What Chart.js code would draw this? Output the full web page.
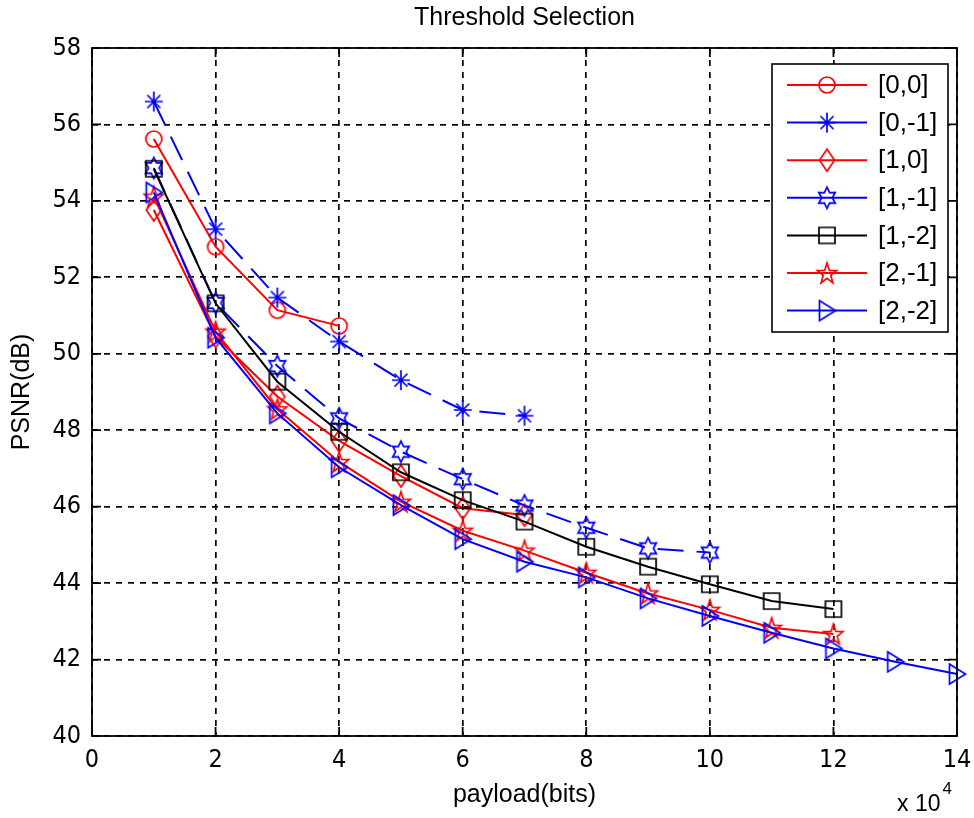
<!DOCTYPE html>
<html lang="en">
<head>
<meta charset="UTF-8">
<title>Threshold Selection</title>
<script src="https://cdn.jsdelivr.net/npm/chart.js"></script>
<style>
    html, body { margin: 0; padding: 0; background: #fff; }
    .chart-container { width: 974px; height: 818px; }
</style>
</head>
<body>
<div class="chart-container"><canvas id="grafico" width="974" height="818"></canvas></div>
<script>
// payload in units of 10^4 bits
var payload = [1, 2, 3, 4, 5, 6, 7, 8, 9, 10, 11, 12, 13, 14];
var seriesNames = ['[0,0]', '[0,-1]', '[1,0]', '[1,-1]', '[1,-2]', '[2,-1]', '[2,-2]'];

// PSNR(dB) for each threshold pair
var psnr00  = [55.62, 52.80, 51.14, 50.73];
var psnr0m1 = [56.60, 53.26, 51.47, 50.32, 49.31, 48.53, 48.38];
var psnr10  = [53.76, 50.45, 48.88, 47.72, 46.80, 45.96, 45.78];
var psnr1m1 = [54.86, 51.33, 49.68, 48.31, 47.44, 46.72, 46.03, 45.45, 44.91, 44.80];
var psnr1m2 = [54.84, 51.32, 49.27, 47.96, 46.90, 46.17, 45.61, 44.95, 44.43, 43.97, 43.53, 43.32];
var psnr2m1 = [54.11, 50.58, 48.55, 47.17, 46.13, 45.37, 44.85, 44.27, 43.73, 43.30, 42.83, 42.67];
var psnr2m2 = [54.22, 50.42, 48.44, 47.03, 46.04, 45.15, 44.56, 44.15, 43.60, 43.14, 42.70, 42.29, 41.94, 41.62];

var xTicks = [0, 2, 4, 6, 8, 10, 12, 14];
var yTicks = [40, 42, 44, 46, 48, 50, 52, 54, 56, 58];

var RED = '#ff0000', BLUE = '#0000ff', BLACK = '#000000';
var narrowFont = "'Liberation Sans Narrow', 'DejaVu Sans Condensed', 'Liberation Sans', sans-serif";
var regularFont = "'Liberation Sans', Arial, sans-serif";

// small canvases used as marker images (MATLAB-like symbols)
function makeMarker(w, h, color, draw) {
    var c = document.createElement('canvas');
    c.width = w; c.height = h;
    var g = c.getContext('2d');
    g.strokeStyle = color;
    g.lineWidth = 1.7;
    g.beginPath();
    draw(g, w / 2, h / 2);
    g.stroke();
    return c;
}
function starPath(g, cx, cy, n, rOut, rIn, sy) {
    for (var i = 0; i < n * 2; i++) {
        var r = i % 2 === 0 ? rOut : rIn;
        var a = -Math.PI / 2 + i * Math.PI / n;
        var px = cx + r * Math.cos(a), py = cy + r * Math.sin(a) * sy;
        if (i === 0) g.moveTo(px, py); else g.lineTo(px, py);
    }
    g.closePath();
}
var mCircle = makeMarker(22, 22, RED, function (g, cx, cy) { g.arc(cx, cy, 8, 0, Math.PI * 2); });
var mAster = makeMarker(24, 24, BLUE, function (g, cx, cy) {
    g.moveTo(cx, cy - 10); g.lineTo(cx, cy + 10);
    g.moveTo(cx - 9, cy); g.lineTo(cx + 9, cy);
    g.moveTo(cx - 6.5, cy - 6.5); g.lineTo(cx + 6.5, cy + 6.5);
    g.moveTo(cx - 6.5, cy + 6.5); g.lineTo(cx + 6.5, cy - 6.5);
});
var mDiamond = makeMarker(20, 26, RED, function (g, cx, cy) {
    g.moveTo(cx, cy - 11); g.lineTo(cx + 7.5, cy); g.lineTo(cx, cy + 11); g.lineTo(cx - 7.5, cy); g.closePath();
});
var mHexa = makeMarker(24, 26, BLUE, function (g, cx, cy) { starPath(g, cx, cy, 6, 9.5, 5.3, 1.12); });
var mSquare = makeMarker(22, 22, BLACK, function (g, cx, cy) { g.rect(cx - 8, cy - 8, 16, 16); });
var mPenta = makeMarker(24, 26, RED, function (g, cx, cy) { starPath(g, cx, cy + 1, 5, 10, 4, 1.1); });
var mTri = makeMarker(22, 26, BLUE, function (g, cx, cy) {
    g.moveTo(cx - 7.5, cy - 10); g.lineTo(cx + 8.5, cy); g.lineTo(cx - 7.5, cy + 10); g.closePath();
});

var seriesData = [psnr00, psnr0m1, psnr10, psnr1m1, psnr1m2, psnr2m1, psnr2m2];
var seriesColors = [RED, BLUE, RED, BLUE, BLACK, RED, BLUE];
var seriesMarkers = [mCircle, mAster, mDiamond, mHexa, mSquare, mPenta, mTri];
var seriesDash = [[], [26, 13], [], [26, 13], [], [], []];

var datasets = seriesData.map(function (vals, i) {
    return {
        label: seriesNames[i],
        data: vals.map(function (v, j) { return { x: payload[j], y: v }; }),
        borderColor: seriesColors[i],
        backgroundColor: seriesColors[i],
        borderWidth: 2,
        borderDash: seriesDash[i],
        pointStyle: seriesMarkers[i],
        pointRadius: 8,
        pointHoverRadius: 8,
        tension: 0,
        fill: false,
        clip: false,
        order: seriesData.length - i
    };
});

// axes box, inward ticks, titles and legend in MATLAB fashion
var matlabFrame = {
    id: 'matlabFrame',
    afterDatasetsDraw: function (chart) {
        var ctx = chart.ctx, a = chart.chartArea;
        var sx = chart.scales.x, sy = chart.scales.y, tl = 9;
        ctx.save();
        ctx.strokeStyle = '#000';
        ctx.lineWidth = 1.8;
        ctx.setLineDash([]);
        ctx.strokeRect(a.left, a.top, a.right - a.left, a.bottom - a.top);
        ctx.beginPath();
        xTicks.forEach(function (v) {
            var px = sx.getPixelForValue(v);
            ctx.moveTo(px, a.bottom); ctx.lineTo(px, a.bottom - tl);
            ctx.moveTo(px, a.top); ctx.lineTo(px, a.top + tl);
        });
        yTicks.forEach(function (v) {
            var py = sy.getPixelForValue(v);
            ctx.moveTo(a.left, py); ctx.lineTo(a.left + tl, py);
            ctx.moveTo(a.right, py); ctx.lineTo(a.right - tl, py);
        });
        ctx.stroke();
        ctx.restore();
    },
    afterDraw: function (chart) {
        var ctx = chart.ctx, a = chart.chartArea;
        var cx = (a.left + a.right) / 2;
        ctx.save();
        ctx.fillStyle = '#000';
        ctx.textAlign = 'center';
        ctx.textBaseline = 'middle';
        ctx.font = '25px ' + regularFont;
        ctx.fillText('Threshold Selection', cx, 18);
        ctx.fillText('payload(bits)', cx, 795);
        ctx.save();
        ctx.translate(22, (a.top + a.bottom) / 2);
        ctx.rotate(-Math.PI / 2);
        ctx.fillText('PSNR(dB)', 0, 0);
        ctx.restore();
        ctx.textAlign = 'left';
        ctx.font = '23px ' + regularFont;
        ctx.fillText('x 10', 897, 805);
        var w = ctx.measureText('x 10').width;
        ctx.font = '17px ' + regularFont;
        ctx.fillText('4', 897 + w + 2, 789);

        // legend box
        var lx = 772, ly = 64, lw = 176, lh = 268;
        ctx.fillStyle = '#fff';
        ctx.fillRect(lx, ly, lw, lh);
        ctx.strokeStyle = '#000';
        ctx.lineWidth = 1.6;
        ctx.strokeRect(lx, ly, lw, lh);
        ctx.font = '26px ' + regularFont;
        seriesNames.forEach(function (name, i) {
            var y = 85 + i * 37.6;
            ctx.strokeStyle = seriesColors[i];
            ctx.lineWidth = 2;
            ctx.beginPath();
            ctx.moveTo(787, y); ctx.lineTo(867, y);
            ctx.stroke();
            var m = seriesMarkers[i];
            ctx.drawImage(m, 827 - m.width / 2, y - m.height / 2);
            ctx.fillStyle = '#000';
            ctx.fillText(name, 878, y + 1);
        });
        ctx.restore();
    }
};

var ctx = document.getElementById('grafico').getContext('2d');
var grafico = new Chart(ctx, {
    type: 'line',
    data: { datasets: datasets },
    options: {
        responsive: false,
        animation: false,
        layout: { padding: { left: 0, top: 48, right: 17, bottom: 0 } },
        scales: {
            x: {
                type: 'linear',
                min: 0,
                max: 14,
                afterBuildTicks: function (s) { s.ticks = xTicks.map(function (v) { return { value: v }; }); },
                afterFit: function (s) { s.height = 82; s.paddingLeft = 0; s.paddingRight = 0; },
                grid: { color: '#000', lineWidth: 1.7, drawTicks: false },
                border: { display: false, dash: [6, 6] },
                ticks: { color: '#000', padding: 9, maxRotation: 0, font: { family: narrowFont, size: 25 } }
            },
            y: {
                type: 'linear',
                min: 40,
                max: 58,
                afterBuildTicks: function (s) { s.ticks = yTicks.map(function (v) { return { value: v }; }); },
                afterFit: function (s) { s.width = 92; s.paddingTop = 0; s.paddingBottom = 0; },
                grid: { color: '#000', lineWidth: 1.7, drawTicks: false },
                border: { display: false, dash: [6, 6] },
                ticks: { color: '#000', padding: 11, font: { family: narrowFont, size: 25 } }
            }
        },
        plugins: {
            legend: { display: false },
            tooltip: { enabled: false }
        }
    },
    plugins: [matlabFrame]
});
</script>
</body>
</html>
